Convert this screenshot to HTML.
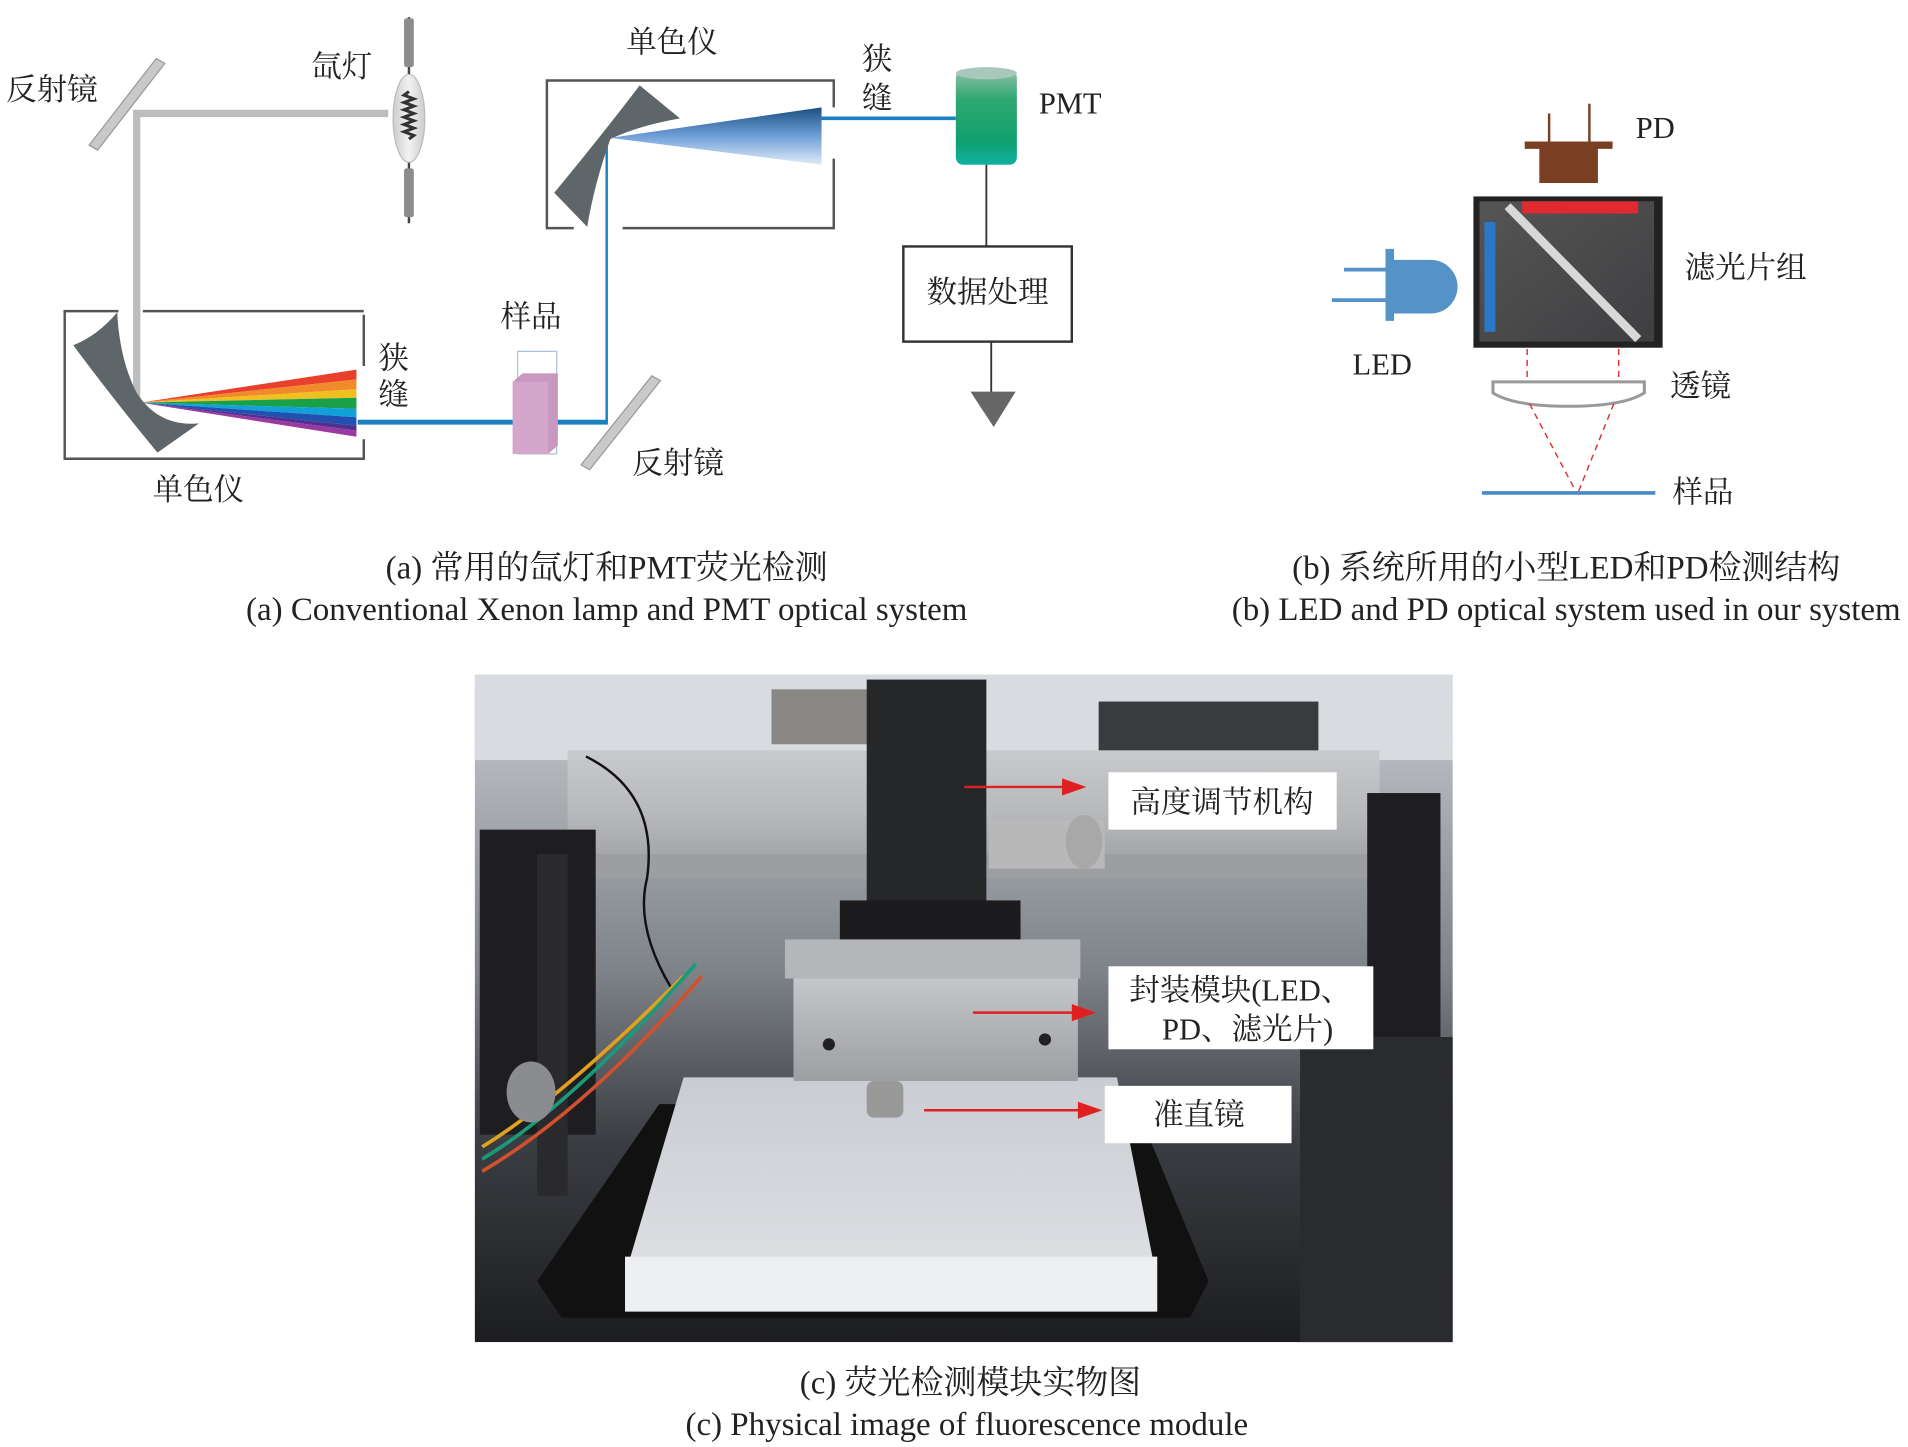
<!DOCTYPE html>
<html><head><meta charset="utf-8"><style>
html,body{margin:0;padding:0;background:#fff;}
svg{display:block;}
text{font-family:"Liberation Serif","Noto Serif CJK SC","Noto Sans CJK SC",serif;fill:#222;}
</style></head><body>
<svg width="1908" height="1447" viewBox="0 0 1563 1186" preserveAspectRatio="none" xmlns="http://www.w3.org/2000/svg">
<defs>
<linearGradient id="pmt" x1="0" y1="0" x2="0" y2="1"><stop offset="0" stop-color="#8fbfa8"/><stop offset="0.3" stop-color="#2fa870"/><stop offset="0.75" stop-color="#10a070"/><stop offset="1" stop-color="#10b0a0"/></linearGradient>
<linearGradient id="bfan" x1="0" y1="0" x2="0" y2="1"><stop offset="0" stop-color="#1a4f80"/><stop offset="0.5" stop-color="#6f9fd8"/><stop offset="1" stop-color="#e0ecf8"/></linearGradient>
<linearGradient id="bulb" x1="0" y1="0" x2="1" y2="0"><stop offset="0" stop-color="#ccc"/><stop offset="0.5" stop-color="#f2f2f2"/><stop offset="1" stop-color="#ccc"/></linearGradient>
<linearGradient id="bg" x1="0" y1="0" x2="0" y2="1"><stop offset="0" stop-color="#c9cdd2"/><stop offset="0.45" stop-color="#7d8288"/><stop offset="0.7" stop-color="#3a3d42"/><stop offset="1" stop-color="#1c1d20"/></linearGradient>
<linearGradient id="rail" x1="0" y1="0" x2="0" y2="1"><stop offset="0" stop-color="#c8cacc"/><stop offset="0.5" stop-color="#b6b8bb"/><stop offset="1" stop-color="#9a9ca0"/></linearGradient>
<linearGradient id="mod" x1="0" y1="0" x2="0" y2="1"><stop offset="0" stop-color="#c5c7ca"/><stop offset="1" stop-color="#9c9ea2"/></linearGradient>
<linearGradient id="plate" x1="0" y1="0" x2="0" y2="1"><stop offset="0" stop-color="#c9ccd2"/><stop offset="1" stop-color="#dcdee2"/></linearGradient>
<linearGradient id="cube" x1="0" y1="0" x2="1" y2="1"><stop offset="0" stop-color="#555"/><stop offset="1" stop-color="#3f3f42"/></linearGradient>
</defs>

<polygon points="128,48 135,52 80,123 73,119" fill="#c8c9cb" stroke="#999" stroke-width="1"/>
<polyline points="318,93 112,93 112,330" fill="none" stroke="#bcbdbf" stroke-width="6"/>
<line x1="335" y1="14" x2="335" y2="183" stroke="#444" stroke-width="2"/>
<rect x="331" y="15" width="8" height="40" fill="#8c8c8e" rx="2"/>
<rect x="331" y="138" width="8" height="40" fill="#8c8c8e" rx="2"/>
<ellipse cx="335" cy="97" rx="13" ry="36" fill="url(#bulb)" stroke="#bbb"/>
<path d="M335,75 l-4,3 l8,3 l-8,3 l8,3 l-8,3 l8,3 l-8,3 l8,3 l-8,3 l8,3 l-8,3 l8,3 l-4,3" fill="none" stroke="#333" stroke-width="2.5"/>
<text x="5" y="82" font-size="25">反射镜</text>
<text x="255" y="63" font-size="25">氙灯</text>

<polyline points="298,258 298,376 53,376 53,255 97,255" fill="none" stroke="#555" stroke-width="2"/>
<line x1="117" y1="255" x2="298" y2="255" stroke="#555" stroke-width="2"/>
<line x1="298" y1="300" x2="298" y2="360" stroke="#fff" stroke-width="3"/>
<path d="M96,256 Q80,275 60,283 Q95,330 129,371 L163,347 Q130,350 112,322 Q98,295 96,256 Z" fill="#5f6669"/>
<polygon points="115,330 292,303 292,311" fill="#e8402a"/>
<polygon points="115,330 292,311 292,319" fill="#f08a2a"/>
<polygon points="115,330 292,319 292,326" fill="#f0c020"/>
<polygon points="115,330 292,326 292,335" fill="#1aa048"/>
<polygon points="115,330 292,335 292,342" fill="#12a0d8"/>
<polygon points="115,330 292,342 292,349" fill="#2050b0"/>
<polygon points="115,330 292,349 292,353" fill="#503090"/>
<polygon points="115,330 292,353 292,358" fill="#9a3aa0"/>
<text x="310" y="302" font-size="25">狭</text>
<text x="310" y="332" font-size="25">缝</text>
<text x="125" y="410" font-size="25">单色仪</text>
<line x1="293" y1="346" x2="498" y2="346" stroke="#1a80c2" stroke-width="4"/>
<polyline points="497,346 497,112 502,112" fill="none" stroke="#1a80c2" stroke-width="2"/>
<rect x="424" y="288" width="32" height="84" fill="none" stroke="#a8c0e0" stroke-width="1"/>
<polygon points="420,313 428,306 457,306 457,365 449,372 420,372" fill="#c898c0"/>
<rect x="420" y="313" width="29" height="59" fill="#d4a6cc"/>
<text x="410" y="268" font-size="25">样品</text>
<polygon points="534,308 541,312 483,385 476,381" fill="#c8c9cb" stroke="#999" stroke-width="1"/>
<text x="518" y="388" font-size="25">反射镜</text>

<polyline points="470,187 448,187 448,66 683,66 683,187 510,187" fill="none" stroke="#555" stroke-width="2"/>
<line x1="683" y1="88" x2="683" y2="130" stroke="#fff" stroke-width="3"/>
<path d="M524,70 L557,97 Q523,103 500,114 Q487,150 481,186 L454,158 Q492,112 524,70 Z" fill="#5f6669"/>
<polygon points="500,113 673,88 673,135" fill="url(#bfan)"/>
<text x="513" y="43" font-size="25">单色仪</text>
<text x="706" y="57" font-size="25">狭</text>
<text x="706" y="89" font-size="25">缝</text>
<line x1="673" y1="97" x2="783" y2="97" stroke="#1a80c2" stroke-width="3"/>
<rect x="783" y="58" width="50" height="77" rx="6" fill="url(#pmt)"/>
<ellipse cx="808" cy="60" rx="25" ry="5" fill="#a8c8bc"/>
<text x="851" y="93" font-size="25">PMT</text>
<line x1="808" y1="135" x2="808" y2="202" stroke="#333" stroke-width="1.5"/>
<rect x="740" y="202" width="138" height="78" fill="#fff" stroke="#333" stroke-width="2"/>
<text x="809" y="248" font-size="25" text-anchor="middle">数据处理</text>
<line x1="812" y1="280" x2="812" y2="323" stroke="#333" stroke-width="1.5"/>
<polygon points="795,321 832,321 814,350" fill="#666"/>

<text x="497" y="474" font-size="27" text-anchor="middle">(a) 常用的氙灯和PMT荧光检测</text>
<text x="497" y="508" font-size="27" text-anchor="middle">(a) Conventional Xenon lamp and PMT optical system</text>

<line x1="1269" y1="93" x2="1269" y2="118" stroke="#7a3e23" stroke-width="2"/>
<line x1="1302" y1="85" x2="1302" y2="118" stroke="#7a3e23" stroke-width="2"/>
<rect x="1249" y="116" width="72" height="6" fill="#7a3e23"/>
<rect x="1261" y="121" width="48" height="29" fill="#7a3e23"/>
<text x="1340" y="113" font-size="25">PD</text>
<rect x="1207" y="161" width="155" height="124" fill="#222"/>
<rect x="1212" y="165" width="143" height="115" fill="url(#cube)"/>
<rect x="1247" y="165" width="95" height="10" fill="#e02a30"/>
<rect x="1216" y="182" width="9" height="90" fill="#2a78c8"/>
<line x1="1235" y1="169" x2="1342" y2="278" stroke="#d8d8d8" stroke-width="7"/>
<text x="1380" y="228" font-size="25">滤光片组</text>
<line x1="1101" y1="221" x2="1136" y2="221" stroke="#5592c8" stroke-width="3"/>
<line x1="1091" y1="246" x2="1136" y2="246" stroke="#5592c8" stroke-width="3"/>
<rect x="1135" y="204" width="7" height="59" fill="#5592c8"/>
<path d="M1141,213 L1172,213 A22,22 0 0 1 1172,257 L1141,257 Z" fill="#5592c8"/>
<text x="1108" y="307" font-size="25">LED</text>
<line x1="1251" y1="286" x2="1251" y2="313" stroke="#d33" stroke-width="1.2" stroke-dasharray="5,4"/>
<line x1="1326" y1="286" x2="1326" y2="313" stroke="#d33" stroke-width="1.2" stroke-dasharray="5,4"/>
<path d="M1223,313 L1347,313 L1347,322 Q1330,333 1285,333 Q1240,333 1223,322 Z" fill="#fff" stroke="#999" stroke-width="2.5"/>
<line x1="1253" y1="331" x2="1291" y2="403" stroke="#d33" stroke-width="1.2" stroke-dasharray="5,4"/>
<line x1="1322" y1="331" x2="1293" y2="403" stroke="#d33" stroke-width="1.2" stroke-dasharray="5,4"/>
<line x1="1214" y1="404" x2="1356" y2="404" stroke="#4a8ac4" stroke-width="3"/>
<text x="1368" y="325" font-size="25">透镜</text>
<text x="1370" y="412" font-size="25">样品</text>
<text x="1283" y="474" font-size="27" text-anchor="middle">(b) 系统所用的小型LED和PD检测结构</text>
<text x="1283" y="508" font-size="27" text-anchor="middle">(b) LED and PD optical system used in our system</text>

<rect x="389" y="553" width="801" height="547" fill="url(#bg)"/>
<rect x="389" y="553" width="801" height="70" fill="#d8dbe0"/>
<rect x="900" y="575" width="180" height="45" fill="#3a3b3e"/>
<rect x="632" y="565" width="80" height="45" fill="#8a8885"/>
<rect x="465" y="615" width="665" height="105" fill="url(#rail)"/>
<rect x="465" y="700" width="665" height="20" fill="#9c9ea2"/>
<rect x="393" y="680" width="95" height="250" fill="#1e1e20"/>
<rect x="440" y="700" width="25" height="280" fill="#2a2a2c"/>
<rect x="1120" y="650" width="60" height="200" fill="#1e1e22"/>
<rect x="1065" y="850" width="125" height="250" fill="#2a2b2e"/>
<path d="M480,620 Q540,650 530,720 Q520,760 550,810" fill="none" stroke="#111" stroke-width="2"/>
<path d="M395,940 Q460,900 560,800" fill="none" stroke="#e0a020" stroke-width="3"/>
<path d="M395,950 Q470,905 570,790" fill="none" stroke="#1a9a7a" stroke-width="3"/>
<path d="M395,960 Q480,910 575,800" fill="none" stroke="#d05030" stroke-width="3"/>
<rect x="710" y="557" width="98" height="185" fill="#262729"/>
<rect x="688" y="738" width="148" height="32" fill="#1c1c1e"/>
<rect x="810" y="672" width="95" height="40" fill="#b8b8b8"/>
<ellipse cx="888" cy="690" rx="15" ry="22" fill="#a8a8a8"/>
<polygon points="440,1050 540,905 930,905 990,1050 975,1080 460,1080" fill="#111"/>
<polygon points="560,883 915,883 945,1035 515,1035" fill="url(#plate)"/>
<rect x="643" y="770" width="242" height="32" fill="#b4b6b9"/>
<rect x="650" y="802" width="233" height="84" fill="url(#mod)"/>
<circle cx="679" cy="856" r="5" fill="#222"/><circle cx="856" cy="852" r="5" fill="#222"/>
<rect x="710" y="886" width="30" height="30" rx="6" fill="#999"/>
<polygon points="512,1030 948,1030 948,1075 512,1075" fill="#eeeff1"/>
<ellipse cx="435" cy="895" rx="20" ry="25" fill="#8a8c90"/>
<rect x="908" y="633" width="187" height="47" fill="#fff"/>
<text x="1001" y="666" font-size="25" text-anchor="middle">高度调节机构</text>
<rect x="908" y="792" width="217" height="68" fill="#fff"/>
<text x="1016" y="820" font-size="25" text-anchor="middle">封装模块(LED、</text>
<text x="1022" y="852" font-size="25" text-anchor="middle">PD、滤光片)</text>
<rect x="905" y="890" width="153" height="47" fill="#fff"/>
<text x="982" y="922" font-size="25" text-anchor="middle">准直镜</text>
<line x1="790" y1="645" x2="872" y2="645" stroke="#e02020" stroke-width="2"/>
<polygon points="870,638 890,645 870,652" fill="#e02020"/>
<line x1="797" y1="830" x2="880" y2="830" stroke="#e02020" stroke-width="2"/>
<polygon points="878,823 898,830 878,837" fill="#e02020"/>
<line x1="757" y1="910" x2="885" y2="910" stroke="#e02020" stroke-width="2"/>
<polygon points="883,903 903,910 883,917" fill="#e02020"/>

<text x="795" y="1142" font-size="27" text-anchor="middle">(c) 荧光检测模块实物图</text>
<text x="792" y="1176" font-size="27" text-anchor="middle">(c) Physical image of fluorescence module</text>
</svg>
</body></html>
